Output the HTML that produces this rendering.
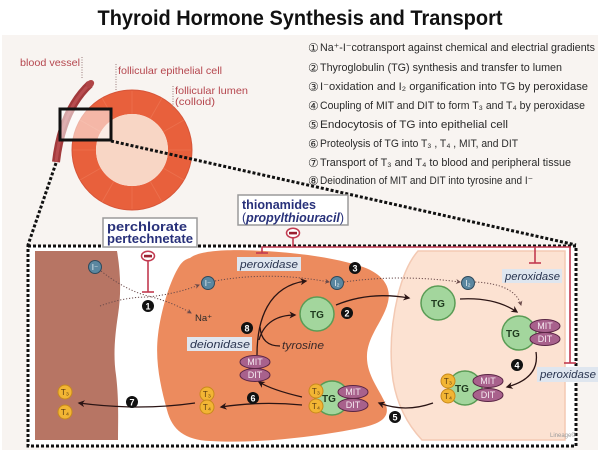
<!DOCTYPE html>
<html><head><meta charset="utf-8"><style>
html,body{margin:0;padding:0;background:#fff;}
svg{display:block;}
text{font-family:"Liberation Sans","DejaVu Sans",sans-serif;}
</style></head><body>
<svg width="600" height="450" viewBox="0 0 600 450" xmlns="http://www.w3.org/2000/svg">
<defs>
<marker id="ah" viewBox="0 0 10 10" refX="8" refY="5" markerWidth="7" markerHeight="7" orient="auto" markerUnits="userSpaceOnUse">
<path d="M0,0 L10,5 L0,10 L3,5 Z" fill="#2a1414"/>
</marker>
<marker id="ahd" viewBox="0 0 10 10" refX="8" refY="5" markerWidth="5" markerHeight="5" orient="auto" markerUnits="userSpaceOnUse">
<path d="M0,0 L10,5 L0,10 L3,5 Z" fill="#6a4a4a"/>
</marker>
</defs>
<rect width="600" height="450" fill="#fff"/>
<rect x="2" y="35" width="596" height="415" fill="#f8f4f1"/>
<text x="300" y="25" text-anchor="middle" font-size="21" font-weight="bold" textLength="405" lengthAdjust="spacingAndGlyphs" fill="#111">Thyroid Hormone Synthesis and Transport</text>

<!-- follicle ring -->
<circle cx="132" cy="150" r="48" fill="none" stroke="#e8603c" stroke-width="24"/>
<circle cx="132" cy="150" r="60" fill="none" stroke="#d65539" stroke-width="1"/>
<circle cx="132" cy="150" r="36" fill="#f8d6c5"/>
<g stroke="#f49070" stroke-width="0.8" opacity="0.35">
<line x1="132" y1="114" x2="132" y2="91"/>
<line x1="150" y1="119" x2="162" y2="98"/>
<line x1="163" y1="132" x2="184" y2="120"/>
<line x1="168" y1="150" x2="191" y2="150"/>
<line x1="163" y1="168" x2="184" y2="180"/>
<line x1="150" y1="181" x2="162" y2="202"/>
<line x1="132" y1="186" x2="132" y2="209"/>
<line x1="114" y1="181" x2="102" y2="202"/>
<line x1="101" y1="168" x2="80" y2="180"/>
<line x1="96" y1="150" x2="73" y2="150"/>
<line x1="101" y1="132" x2="80" y2="120"/>
<line x1="114" y1="119" x2="102" y2="98"/>
</g>
<!-- blood vessel -->
<path d="M90,84 Q62,110 56,162" fill="none" stroke="#a23a3c" stroke-width="8" stroke-linecap="butt"/>
<path d="M90,84 Q62,110 56,162" fill="none" stroke="#b84d50" stroke-width="3"/>
<ellipse cx="90" cy="84" rx="4.5" ry="3.5" fill="#b04446" transform="rotate(-40 90 84)"/>
<!-- rectangle -->
<rect x="60" y="109" width="51" height="31" fill="#fff" fill-opacity="0.55" stroke="#111" stroke-width="3"/>
<!-- labels -->
<g font-size="10.5" fill="#b5464e">
<text x="20" y="66" textLength="60" lengthAdjust="spacingAndGlyphs">blood vessel</text>
<text x="118" y="74" textLength="104" lengthAdjust="spacingAndGlyphs">follicular epithelial cell</text>
<text x="175" y="94" textLength="73" lengthAdjust="spacingAndGlyphs">follicular lumen</text>
<text x="175" y="105" textLength="40" lengthAdjust="spacingAndGlyphs">(colloid)</text>
</g>
<g stroke="#9a7a7a" stroke-width="1" stroke-dasharray="1,1.5">
<line x1="82" y1="57" x2="82" y2="79"/>
<line x1="116" y1="64" x2="116" y2="91"/>
<line x1="173" y1="86" x2="173" y2="110"/>
</g>

<!-- legend -->
<g font-size="11" fill="#2a2a2a">
<g font-family="DejaVu Sans" font-size="12">
<text x="308" y="52">①</text><text x="308" y="72">②</text><text x="308" y="91">③</text><text x="308" y="110">④</text>
<text x="308" y="129">⑤</text><text x="308" y="148">⑥</text><text x="308" y="167">⑦</text><text x="308" y="185">⑧</text>
</g>
<text x="320" y="51" textLength="275" lengthAdjust="spacingAndGlyphs">Na⁺-I⁻cotransport against chemical and electrial gradients</text>
<text x="320" y="71" textLength="242" lengthAdjust="spacingAndGlyphs">Thyroglobulin (TG) synthesis and transfer to lumen</text>
<text x="320" y="90" textLength="268" lengthAdjust="spacingAndGlyphs">I⁻oxidation and  I₂ organification into TG by peroxidase</text>
<text x="320" y="109" textLength="265" lengthAdjust="spacingAndGlyphs">Coupling of MIT and DIT to form T₃ and T₄ by peroxidase</text>
<text x="320" y="128" textLength="188" lengthAdjust="spacingAndGlyphs">Endocytosis of TG into epithelial cell</text>
<text x="320" y="147" textLength="198" lengthAdjust="spacingAndGlyphs">Proteolysis of TG into T₃ , T₄ , MIT, and DIT</text>
<text x="320" y="166" textLength="251" lengthAdjust="spacingAndGlyphs">Transport of T₃ and T₄ to blood and peripheral tissue</text>
<text x="320" y="184" textLength="213" lengthAdjust="spacingAndGlyphs">Deiodination of MIT and DIT into tyrosine and I⁻</text>
</g>

<!-- zoom lines -->
<g stroke="#111" stroke-width="3" stroke-dasharray="3,2" fill="none">
<line x1="56" y1="163" x2="28" y2="245"/>
<line x1="111" y1="141" x2="576" y2="245"/>
</g>
<!-- main box -->
<rect x="28" y="246" width="548" height="200" fill="#fff" stroke="#111" stroke-width="3" stroke-dasharray="3,2"/>

<!-- regions -->
<path d="M35,251 L117,251 C121,275 121,295 118,315 C115,335 113,355 116,375 C119,400 118,420 118,440 L35,440 Z" fill="#b77564"/>
<path d="M418,251 L565,251 L565,440 L422,440 C408,425 397,405 393,380 C389,350 392,320 398,295 C403,275 410,260 418,251 Z" fill="#fce2d2" stroke="#f3c9b3" stroke-width="1.5"/>
<path d="M190,258 C200,250 230,249 265,251 C300,253 335,258 360,266 C380,272 392,285 388,302 C384,320 368,335 367,355 C366,375 380,390 386,405 C390,418 380,424 360,428 C320,436 260,444 210,441 C185,440 172,430 167,410 C160,385 155,360 158,335 C161,310 170,280 180,265 C183,261 186,259 190,258 Z" fill="#ec8b5e"/>

<!-- inhibitor boxes -->
<rect x="103" y="218" width="94" height="29" fill="#fff" stroke="#9a9a9a" stroke-width="1.5"/>
<text x="107" y="231" font-size="13" font-weight="bold" fill="#28317a" textLength="80" lengthAdjust="spacingAndGlyphs">perchlorate</text>
<text x="107" y="243" font-size="13" font-weight="bold" fill="#28317a" textLength="86" lengthAdjust="spacingAndGlyphs">pertechnetate</text>
<rect x="238" y="195" width="110" height="30" fill="#fff" stroke="#9a9a9a" stroke-width="1.5"/>
<text x="242" y="209" font-size="12.5" font-weight="bold" fill="#28317a" textLength="74" lengthAdjust="spacingAndGlyphs">thionamides</text>
<text x="242" y="222" font-size="12.5" fill="#28317a" textLength="102" lengthAdjust="spacingAndGlyphs">(<tspan font-style="italic" font-weight="bold">propylthiouracil</tspan>)</text>

<!-- red inhibitor lines -->
<g stroke="#c23a50" stroke-width="1.6" fill="none">
<line x1="148" y1="261" x2="148" y2="292"/>
<line x1="142" y1="292" x2="154" y2="292"/>
<line x1="293" y1="238" x2="293" y2="247"/>
<polyline points="262,253 262,247 570,247 570,363"/>
<line x1="256" y1="253" x2="268" y2="253"/>
<line x1="564" y1="363" x2="576" y2="363"/>
<line x1="535" y1="247" x2="535" y2="263"/>
<line x1="529" y1="263" x2="541" y2="263"/>
</g>
<g>
<ellipse cx="148" cy="256" rx="6.5" ry="4.8" fill="#fff" stroke="#c23a50" stroke-width="1.5"/>
<rect x="144" y="254.8" width="8" height="2.6" fill="#9a2030"/>
<ellipse cx="293" cy="233" rx="6.5" ry="4.8" fill="#fff" stroke="#c23a50" stroke-width="1.5"/>
<rect x="289" y="231.8" width="8" height="2.6" fill="#9a2030"/>
</g>

<!-- peroxidase / deionidase labels -->
<g font-size="11" font-style="italic" fill="#2a3550">
<rect x="237" y="257" width="64" height="14" fill="#dfe6ef"/>
<text x="240" y="268" textLength="58" lengthAdjust="spacingAndGlyphs">peroxidase</text>
<rect x="502" y="269" width="60" height="14" fill="#dfe6ef"/>
<text x="505" y="280" textLength="55" lengthAdjust="spacingAndGlyphs">peroxidase</text>
<rect x="537" y="367" width="61" height="15" fill="#dfe6ef"/>
<text x="540" y="378" textLength="56" lengthAdjust="spacingAndGlyphs">peroxidase</text>
<rect x="187" y="337" width="65" height="14" fill="#dfe6ef"/>
<text x="190" y="348" textLength="60" lengthAdjust="spacingAndGlyphs">deionidase</text>
</g>
<text x="282" y="349" font-size="11" font-style="italic" fill="#3a2a2a" textLength="42" lengthAdjust="spacingAndGlyphs">tyrosine</text>
<text x="195" y="321" font-size="9.5" fill="#2a2a2a">Na⁺</text>

<!-- dotted paths -->
<g stroke="#6a4a4a" stroke-width="1" stroke-dasharray="1.2,1.8" fill="none">
<path d="M101,271 Q125,290 148,296 Q172,302 191,313" marker-end="url(#ahd)"/>
<path d="M100,306 Q124,297 148,297 Q176,294 199,285" marker-end="url(#ahd)"/>
<path d="M215,281 Q270,271 329,282" marker-end="url(#ahd)"/>
<path d="M344,282 Q400,274 460,282" marker-end="url(#ahd)"/>
<path d="M475,282 Q515,284 521,305" marker-end="url(#ahd)"/>
</g>

<!-- solid arrows -->
<g stroke="#2a1414" stroke-width="1.3" fill="none">
<path d="M336,305 Q370,291 409,298" marker-end="url(#ah)"/>
<path d="M460,299 Q495,297 517,312" marker-end="url(#ah)"/>
<path d="M536,352 Q540,378 507,387" marker-end="url(#ah)"/>
<path d="M433,403 Q405,413 379,403" marker-end="url(#ah)"/>
<path d="M302,405 Q260,401 221,407" marker-end="url(#ah)"/>
<path d="M302,397 Q272,390 259,382" marker-end="url(#ah)"/>
<path d="M195,403 Q140,411 79,403" marker-end="url(#ah)"/>
<path d="M257,355 C257,320 268,286 306,281" marker-end="url(#ah)"/>
<path d="M259,340 C264,322 278,315 295,315" marker-end="url(#ah)"/>
<path d="M260,327 C261,340 268,346 280,346"/>
</g>

<!-- ions -->
<g font-size="8" fill="#eef3f6" text-anchor="middle">
<circle cx="95" cy="267" r="6.5" fill="#5b87a0" stroke="#2e4a5c" stroke-width="1"/>
<text x="95" y="270">I⁻</text>
<circle cx="208" cy="283" r="6.5" fill="#5b87a0" stroke="#2e4a5c" stroke-width="1"/>
<text x="208" y="286">I⁻</text>
<circle cx="337" cy="283" r="6.5" fill="#5b87a0" stroke="#2e4a5c" stroke-width="1"/>
<text x="337" y="286">I₂</text>
<circle cx="468" cy="283" r="6.5" fill="#5b87a0" stroke="#2e4a5c" stroke-width="1"/>
<text x="468" y="286">I₂</text>
</g>

<!-- TG circles -->
<g stroke="#5a9c55" stroke-width="1.5" fill="#a3d69d">
<circle cx="317" cy="314" r="17"/>
<circle cx="438" cy="303" r="17"/>
<circle cx="519" cy="333" r="17"/>
<circle cx="465" cy="388" r="17"/>
<circle cx="332" cy="398" r="17"/>
</g>
<g font-size="10" font-weight="bold" fill="#1f3a1f" text-anchor="middle">
<text x="317" y="318">TG</text>
<text x="438" y="307">TG</text>
<text x="513" y="337">TG</text>
<text x="462" y="392">TG</text>
<text x="329" y="402">TG</text>
</g>

<!-- MIT / DIT -->
<g stroke="#5a2545" stroke-width="1" fill="#a8618c">
<ellipse cx="545" cy="326" rx="15" ry="6.5"/>
<ellipse cx="545" cy="339" rx="15" ry="6.5"/>
<ellipse cx="488" cy="381" rx="15" ry="6.5"/>
<ellipse cx="488" cy="395" rx="15" ry="6.5"/>
<ellipse cx="353" cy="392" rx="15" ry="6.5"/>
<ellipse cx="353" cy="405" rx="15" ry="6.5"/>
<ellipse cx="255" cy="362" rx="15" ry="6.5"/>
<ellipse cx="255" cy="375" rx="15" ry="6.5"/>
</g>
<g font-size="9" fill="#f6eaf1" text-anchor="middle">
<text x="545" y="329">MIT</text><text x="545" y="342">DIT</text>
<text x="488" y="384">MIT</text><text x="488" y="398">DIT</text>
<text x="353" y="395">MIT</text><text x="353" y="408">DIT</text>
<text x="255" y="365">MIT</text><text x="255" y="378">DIT</text>
</g>

<!-- T3 / T4 -->
<g stroke="#c98a1c" stroke-width="1" fill="#f2b534">
<circle cx="448" cy="381" r="7"/><circle cx="448" cy="396" r="7"/>
<circle cx="316" cy="391" r="7"/><circle cx="316" cy="406" r="7"/>
<circle cx="207" cy="394" r="7"/><circle cx="207" cy="407" r="7"/>
<circle cx="65" cy="392" r="7"/><circle cx="65" cy="412" r="7"/>
</g>
<g font-size="8" fill="#5a3a10" text-anchor="middle">
<text x="448" y="384">T₃</text><text x="448" y="399">T₄</text>
<text x="316" y="394">T₃</text><text x="316" y="409">T₄</text>
<text x="207" y="397">T₃</text><text x="207" y="410">T₄</text>
<text x="65" y="395">T₃</text><text x="65" y="415">T₄</text>
</g>

<!-- numbered black circles -->
<g fill="#111">
<circle cx="148" cy="306" r="6"/><circle cx="347" cy="313" r="6"/><circle cx="355" cy="268" r="6"/>
<circle cx="517" cy="365" r="6"/><circle cx="395" cy="417" r="6"/><circle cx="253" cy="398" r="6"/>
<circle cx="132" cy="402" r="6"/><circle cx="247" cy="328" r="6"/>
</g>
<g font-size="9" font-weight="bold" fill="#fff" text-anchor="middle">
<text x="148" y="309.5">1</text><text x="347" y="316.5">2</text><text x="355" y="271.5">3</text>
<text x="517" y="368.5">4</text><text x="395" y="420.5">5</text><text x="253" y="401.5">6</text>
<text x="132" y="405.5">7</text><text x="247" y="331.5">8</text>
</g>

<text x="550" y="437" font-size="6" fill="#9a9a9a">Lineage©</text>
</svg>
</body></html>
